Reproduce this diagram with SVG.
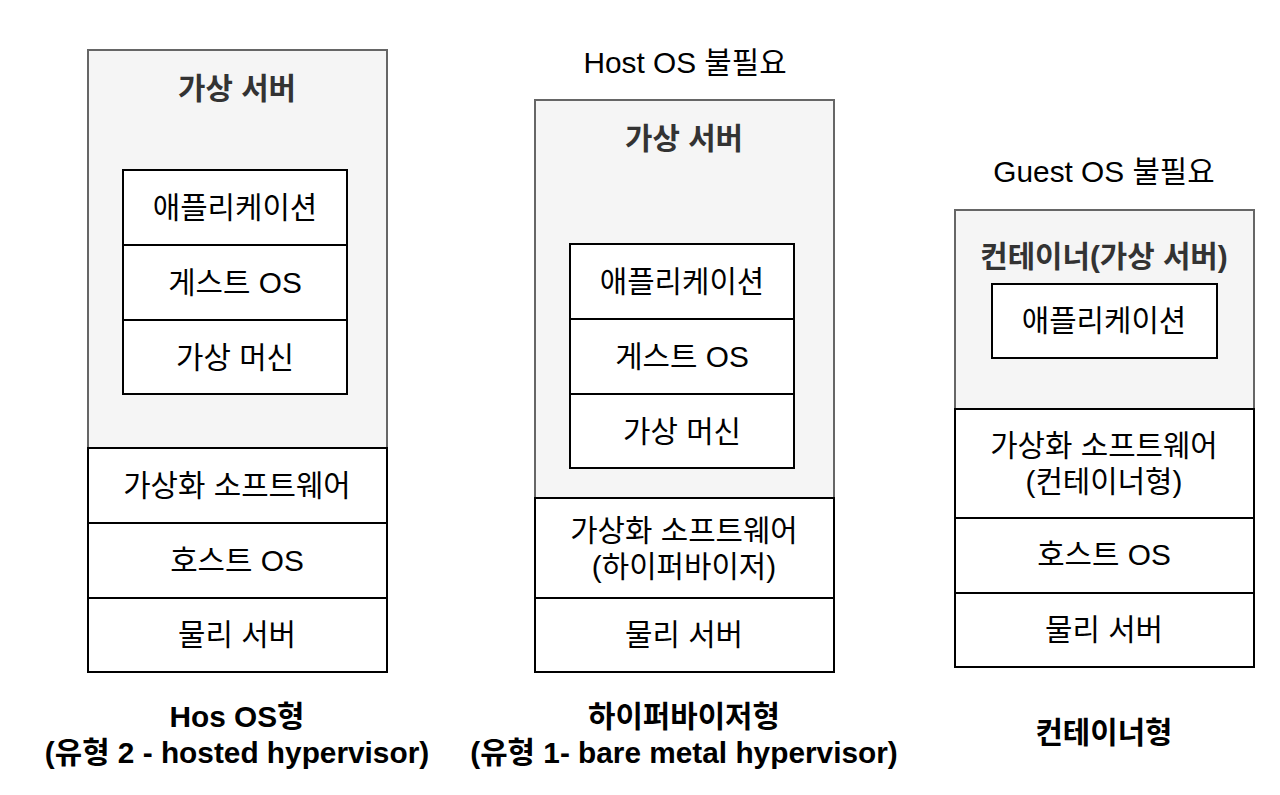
<svg xmlns="http://www.w3.org/2000/svg" width="1280" height="795" viewBox="0 0 1280 795">
<style>
text{font-family:"Liberation Sans","Noto Sans CJK KR",sans-serif;font-size:29.8px;fill:#000;text-anchor:middle;dominant-baseline:central}
.t{font-weight:bold;fill:#333}
.b{font-weight:bold}
.g{fill:#f5f5f5;stroke:#666;stroke-width:2}
.w{fill:#fff;stroke:#000;stroke-width:2}
</style>
<rect width="1280" height="795" fill="#fff"/>
<g id="col1">
<g id="vs1"><rect class="g" x="88" y="50" width="299" height="398"/><text class="t" x="237" y="88">가상 서버</text></g>
<g id="app1"><rect class="w" x="123" y="170" width="224" height="75"/><text x="235" y="207">애플리케이션</text></g>
<g id="gos1"><rect class="w" x="123" y="245" width="224" height="75"/><text x="235" y="282">게스트 OS</text></g>
<g id="vm1"><rect class="w" x="123" y="320" width="224" height="74"/><text x="235" y="357">가상 머신</text></g>
<g id="sw1"><rect class="w" x="88" y="448" width="299" height="75"/><text x="237" y="485">가상화 소프트웨어</text></g>
<g id="hos1"><rect class="w" x="88" y="523" width="299" height="75"/><text x="237" y="560">호스트 OS</text></g>
<g id="ps1"><rect class="w" x="88" y="598" width="299" height="74"/><text x="237" y="634">물리 서버</text></g>
<g id="lbl1"><text class="b" x="237" y="716">Hos OS형</text><text class="b" x="237" y="752">(유형 2 - hosted hypervisor)</text></g>
</g>
<g id="col2">
<text x="685" y="62">Host OS 불필요</text>
<g id="vs2"><rect class="g" x="535" y="100" width="299" height="398"/><text class="t" x="684" y="138">가상 서버</text></g>
<g id="app2"><rect class="w" x="570" y="244" width="224" height="75"/><text x="682" y="281">애플리케이션</text></g>
<g id="gos2"><rect class="w" x="570" y="319" width="224" height="75"/><text x="682" y="356">게스트 OS</text></g>
<g id="vm2"><rect class="w" x="570" y="394" width="224" height="74"/><text x="682" y="431">가상 머신</text></g>
<g id="sw2"><rect class="w" x="535" y="498" width="299" height="100"/><text x="684" y="530">가상화 소프트웨어</text><text x="684" y="566">(하이퍼바이저)</text></g>
<g id="ps2"><rect class="w" x="535" y="598" width="299" height="74"/><text x="684" y="634">물리 서버</text></g>
<g id="lbl2"><text class="b" x="684" y="716">하이퍼바이저형</text><text class="b" x="684" y="752">(유형 1- bare metal hypervisor)</text></g>
</g>
<g id="col3">
<text x="1104" y="171">Guest OS 불필요</text>
<g id="ct3"><rect class="g" x="955" y="210" width="299" height="199"/><text class="t" x="1104" y="256">컨테이너(가상 서버)</text></g>
<g id="app3"><rect class="w" x="992" y="284" width="225" height="74"/><text x="1104" y="320">애플리케이션</text></g>
<g id="sw3"><rect class="w" x="955" y="409" width="299" height="109"/><text x="1104" y="445">가상화 소프트웨어</text><text x="1104" y="481">(컨테이너형)</text></g>
<g id="hos3"><rect class="w" x="955" y="518" width="299" height="75"/><text x="1104" y="554">호스트 OS</text></g>
<g id="ps3"><rect class="w" x="955" y="593" width="299" height="74"/><text x="1104" y="629">물리 서버</text></g>
<g id="lbl3"><text class="b" x="1104" y="732">컨테이너형</text></g>
</g>
<g id="connectors"/>
</svg>
